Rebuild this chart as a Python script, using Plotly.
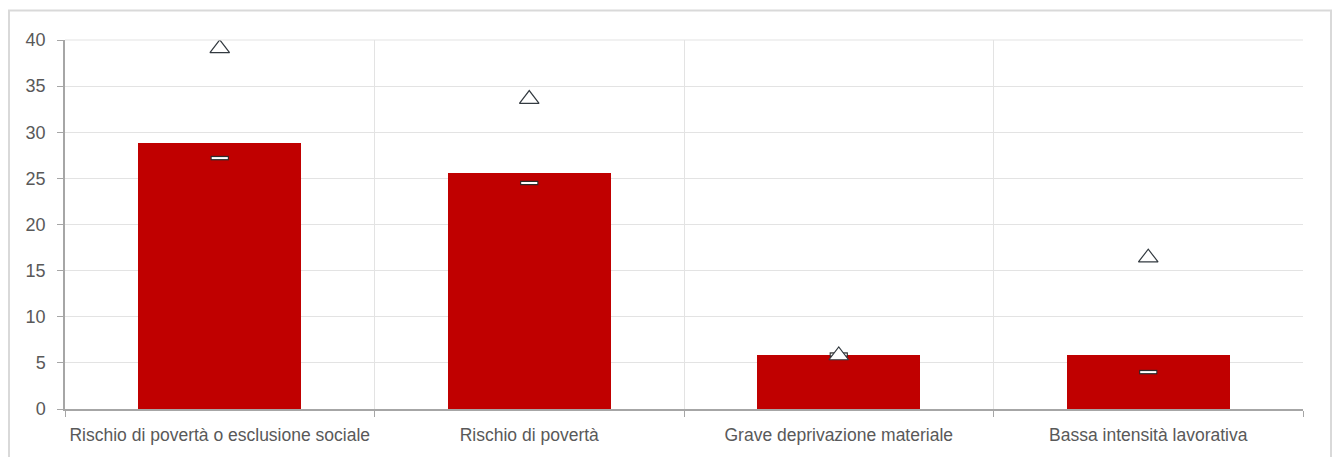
import plotly.graph_objects as go

# Indicator categories and values (%)
categories = [
    "Rischio di povertà o esclusione sociale",
    "Rischio di povertà",
    "Grave deprivazione materiale",
    "Bassa intensità lavorativa",
]
bar_values = [28.8, 25.6, 5.9, 5.9]
dash_values = [27.2, 24.5, 5.9, 4.0]
triangle_values = [39.1, 33.6, 5.8, 16.4]
y_ticks = [0, 5, 10, 15, 20, 25, 30, 35, 40]

FONT = "Liberation Sans, Arial, sans-serif"
TEXT_COLOR = "#595959"
GRID = "#e3e3e3"
AXIS = "#a6a6a6"

fig = go.Figure()

fig.add_trace(go.Bar(
    x=categories, y=bar_values,
    marker=dict(color="#c00000", line=dict(width=0)),
    width=0.527,
    showlegend=False, hoverinfo="x+y",
))

# Dash marker: dark outline underneath, white core on top
fig.add_trace(go.Scatter(
    x=categories, y=dash_values, mode="markers",
    marker=dict(symbol="line-ew", size=13, line=dict(width=4.5, color="#2b2b2b")),
    showlegend=False, hoverinfo="x+y",
))
fig.add_trace(go.Scatter(
    x=categories, y=dash_values, mode="markers",
    marker=dict(symbol="line-ew", size=11.5, line=dict(width=2, color="#ffffff")),
    showlegend=False, hoverinfo="skip",
))

fig.add_trace(go.Scatter(
    x=categories, y=triangle_values, mode="markers",
    marker=dict(symbol="triangle-up", size=17, color="#ffffff",
                line=dict(width=1.2, color="#333a40")),
    showlegend=False, hoverinfo="x+y",
))

L, R, T, B = 65, 35, 40, 48
W, H = 1338, 457
pw, ph = W - L - R, H - T - B

# Light outer frame around the chart
fig.add_shape(
    type="rect", xref="paper", yref="paper",
    x0=(9 - L) / pw, x1=(1331 - L) / pw,
    y0=(H - B - 470) / ph, y1=(H - B - 10.5) / ph,
    line=dict(color="#d9d9d9", width=2), fillcolor="rgba(0,0,0,0)",
    layer="below",
)

fig.update_layout(
    width=W, height=H,
    margin=dict(l=L, r=R, t=T, b=B, pad=0, autoexpand=False),
    paper_bgcolor="#ffffff", plot_bgcolor="#ffffff",
    font=dict(family=FONT, size=17, color=TEXT_COLOR),
    bargap=0,
)

fig.update_xaxes(
    type="category", tickson="boundaries",
    showgrid=True, gridcolor=GRID, gridwidth=1,
    showline=True, linecolor=AXIS, linewidth=1.5,
    ticks="outside", ticklen=6, tickcolor=AXIS,
    ticklabelstandoff=9, tickangle=0, automargin=False,
    tickfont=dict(family=FONT, size=17.5, color=TEXT_COLOR),
    mirror=False, zeroline=False,
)
fig.update_yaxes(
    range=[0, 40], tickvals=y_ticks,
    showgrid=True, gridcolor=GRID, gridwidth=1,
    showline=True, linecolor=AXIS, linewidth=1.5,
    ticks="outside", ticklen=6, tickcolor=AXIS,
    ticklabelstandoff=8, automargin=False,
    tickfont=dict(family=FONT, size=18, color=TEXT_COLOR),
    zeroline=False,
)

# Top border of the plotting area as a grid line
fig.add_shape(type="line", xref="paper", yref="paper", x0=0, x1=1, y0=1, y1=1,
              line=dict(color=GRID, width=1))

fig.write_html("out.html")
